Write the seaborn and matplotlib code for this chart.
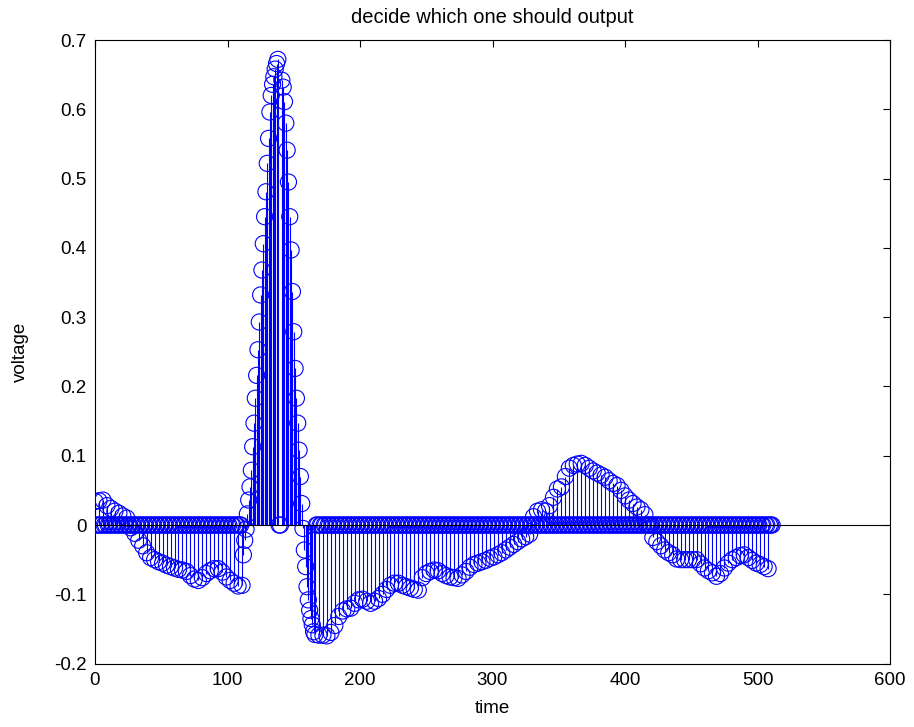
import numpy as np
import pandas as pd
import matplotlib
matplotlib.use("Agg")
import matplotlib.pyplot as plt
import seaborn as sns

# Sampled ECG beat (512 samples). Only the selected samples carry a value,
# every other sample is output as zero.
n_samples = 512

# P / baseline segment, every 3rd sample from 0
pre_start, pre_step = 0, 3
pre_vals = [0.034, 0.035, 0.036, 0.028, 0.024, 0.020, 0.017, 0.013, 0.010, -0.004,
            -0.012, -0.022, -0.030, -0.040, -0.047, -0.050, -0.053, -0.055, -0.058,
            -0.060, -0.062, -0.064, -0.065, -0.067, -0.073, -0.078, -0.080, -0.076,
            -0.070, -0.066, -0.063, -0.063, -0.068, -0.075, -0.080, -0.084, -0.088,
            -0.087]

# QRS upstroke, every sample from 112
qrs_up_start, qrs_up_step = 112, 1
qrs_up_vals = [-0.043, -0.022, -0.006, 0.016, 0.036, 0.055, 0.079, 0.113, 0.147,
               0.183, 0.216, 0.253, 0.293, 0.332, 0.368, 0.406, 0.445, 0.481, 0.522,
               0.558, 0.596, 0.620, 0.636, 0.647, 0.658, 0.666, 0.672]

# QRS downstroke and S wave, every sample from 141
qrs_down_start, qrs_down_step = 141, 1
qrs_down_vals = [0.642, 0.632, 0.611, 0.580, 0.541, 0.495, 0.445, 0.397, 0.337, 0.279,
                 0.226, 0.183, 0.147, 0.108, 0.070, 0.031, -0.005, -0.036, -0.060,
                 -0.089, -0.108, -0.123, -0.135, -0.144, -0.154, -0.158]

# ST segment, every 3rd sample from 169
st_start, st_step = 169, 3
st_vals = [-0.159, -0.159, -0.160, -0.155, -0.145, -0.132, -0.124, -0.121, -0.120,
           -0.113, -0.108, -0.107, -0.110, -0.113, -0.110, -0.106, -0.100, -0.093,
           -0.087, -0.084, -0.084, -0.087, -0.089, -0.091, -0.093, -0.094, -0.076,
           -0.070, -0.067, -0.065, -0.066, -0.070, -0.073, -0.075, -0.076, -0.077,
           -0.072, -0.067, -0.061, -0.057, -0.055, -0.053, -0.051, -0.048, -0.046,
           -0.043, -0.040, -0.036, -0.032, -0.028, -0.024, -0.020, -0.017, -0.013]

# T wave, every 3rd sample from 331
t_start, t_step = 331, 3
t_vals = [0.012, 0.020, 0.022, 0.020, 0.028, 0.040, 0.052, 0.055, 0.070, 0.082, 0.086,
          0.088, 0.089, 0.086, 0.082, 0.078, 0.075, 0.072, 0.069, 0.064, 0.060, 0.057,
          0.050, 0.042, 0.036, 0.031, 0.026, 0.022, 0.015]

# tail after the T wave, every 3rd sample from 421
tail_start, tail_step = 421, 3
tail_vals = [-0.018, -0.024, -0.030, -0.036, -0.040, -0.043, -0.049, -0.050, -0.050,
             -0.050, -0.050, -0.050, -0.056, -0.062, -0.066, -0.069, -0.074, -0.070,
             -0.062, -0.055, -0.050, -0.047, -0.044, -0.043, -0.047, -0.051, -0.055,
             -0.057, -0.060, -0.063]

segments = [
    (pre_start, pre_step, pre_vals),
    (qrs_up_start, qrs_up_step, qrs_up_vals),
    (qrs_down_start, qrs_down_step, qrs_down_vals),
    (st_start, st_step, st_vals),
    (t_start, t_step, t_vals),
    (tail_start, tail_step, tail_vals),
]

voltage = np.zeros(n_samples)
for start, step, vals in segments:
    idx = start + step * np.arange(len(vals))
    voltage[idx] = vals

df = pd.DataFrame({"time": np.arange(n_samples), "voltage": voltage})

x_ticks = [0, 100, 200, 300, 400, 500, 600]
y_ticks = [-0.2, -0.1, 0, 0.1, 0.2, 0.3, 0.4, 0.5, 0.6, 0.7]
y_tick_labels = ["-0.2", "-0.1", "0", "0.1", "0.2", "0.3", "0.4", "0.5", "0.6", "0.7"]

sns.set_style("white")
plt.rcParams["font.family"] = ["Liberation Sans", "DejaVu Sans"]
plt.rcParams["axes.unicode_minus"] = False
plt.rcParams["text.color"] = "black"
plt.rcParams["axes.labelcolor"] = "black"

fig = plt.figure(figsize=(9.14, 7.27), dpi=100)
ax = fig.add_axes([95 / 914, 1 - 663.6 / 727, (890 - 95) / 914, (663.6 - 40) / 727])

# stems
ax.vlines(df["time"], 0, df["voltage"], color="#0000ff", linewidth=0.8, zorder=2)
# stem heads
sns.scatterplot(data=df, x="time", y="voltage", ax=ax, marker="o", s=135,
                color="#0000ff", facecolor="none", edgecolor="#0000ff",
                linewidth=0.8, zorder=3, legend=False)
# baseline
ax.axhline(0, color="black", linewidth=0.8, zorder=4)

ax.set_xlim(0, 600)
ax.set_ylim(-0.2, 0.7)
ax.set_xticks(x_ticks)
ax.set_yticks(y_ticks)
ax.set_yticklabels(y_tick_labels)
ax.tick_params(direction="in", length=5, width=0.8, top=True, right=True,
               labelsize=13.5, colors="black", pad=6)
for s in ax.spines.values():
    s.set_visible(True)
    s.set_color("black")
    s.set_linewidth(0.8)

ax.set_title("decide which one should output", fontsize=14.5, pad=12, color="black")
ax.set_xlabel("time", fontsize=13.5, labelpad=8)
ax.set_ylabel("voltage", fontsize=13.5, labelpad=18)

fig.savefig("out.png", dpi=100, facecolor="white")
